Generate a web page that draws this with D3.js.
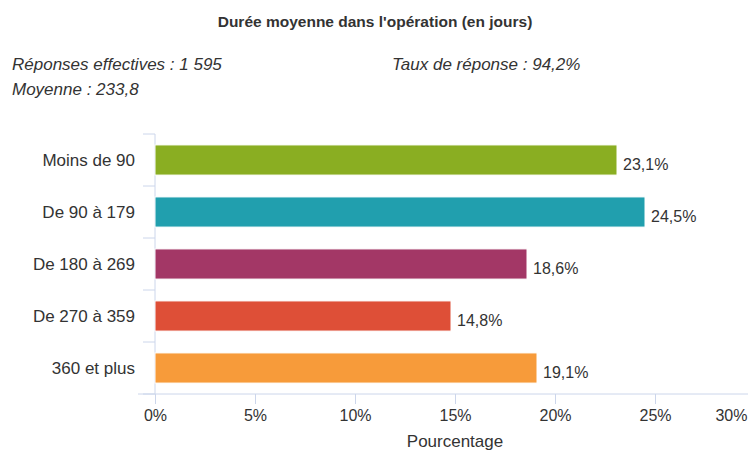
<!DOCTYPE html>
<html>
<head>
<meta charset="utf-8">
<script src="https://cdn.jsdelivr.net/npm/d3@7"></script>
<style>
  body { margin: 0; background: #fff; }
  svg { font-family: "Liberation Sans", Arial, sans-serif; }
</style>
</head>
<body>
<div id="chart"></div>
<script>
const categories = ["Moins de 90", "De 90 à 179", "De 180 à 269", "De 270 à 359", "360 et plus"];
const values = [23.1, 24.5, 18.6, 14.8, 19.1];
const colors = ["#8aae22", "#219fae", "#a33766", "#de4f37", "#f79b3a"];
const xTicks = [0, 5, 10, 15, 20, 25, 30];

const width = 748,
      height = 452,
      margin = ({ top: 134, right: -7, bottom: 58, left: 155 });

let data = categories.map((c, i) => ({ cat: c, val: values[i], color: colors[i] }));

let svg = d3.select("#chart")
    .append("svg")
    .attr("width", width)
    .attr("height", height);

// titles
svg.append("text")
    .attr("x", 375).attr("y", 27)
    .attr("text-anchor", "middle")
    .style("font-size", "15.5px")
    .style("font-weight", "bold")
    .style("fill", "#333")
    .text("Durée moyenne dans l'opération (en jours)");

let sub = [
    ["Réponses effectives : 1 595", 12, 70],
    ["Taux de réponse : 94,2%", 392, 70],
    ["Moyenne : 233,8", 12, 95]
];
svg.selectAll(".sub")
    .data(sub)
    .join("text")
    .attr("class", "sub")
    .attr("x", d => d[1]).attr("y", d => d[2])
    .style("font-size", "17px")
    .style("font-style", "italic")
    .style("fill", "#333")
    .text(d => d[0]);

let x = d3.scaleLinear()
    .domain([0, 30])
    .range([margin.left, width - margin.right]);

let y = d3.scaleBand()
    .domain(categories)
    .range([margin.top, height - margin.bottom])
    .paddingInner(0.42)
    .paddingOuter(0.21);

// x axis
let xAxis = svg.append("g")
    .attr("transform", `translate(0,${height - margin.bottom})`)
    .call(d3.axisBottom(x).tickValues(xTicks).tickFormat(d => d + "%").tickSize(10).tickPadding(6));
xAxis.select(".domain").attr("d", `M138,0H${width}`).attr("stroke", "#ccd6eb");
xAxis.selectAll(".tick line").attr("stroke", "#ccd6eb");
xAxis.selectAll(".tick text").style("font-size", "16px").style("fill", "#333").attr("font-family", null);
// last label pulled inside the frame
xAxis.selectAll(".tick text").filter(d => d === 30)
    .attr("text-anchor", "end").attr("x", width - 1 - x(30));

// y axis: ticks between categories
let yAxis = svg.append("g")
    .attr("transform", `translate(${margin.left},0)`);
yAxis.append("line")
    .attr("x1", 0).attr("x2", 0)
    .attr("y1", margin.top).attr("y2", height - margin.bottom)
    .attr("stroke", "#ccd6eb");
let step = y.step();
let bounds = categories.map(c => y(c) - (step - y.bandwidth()) / 2).concat([height - margin.bottom]);
yAxis.selectAll(".yt")
    .data(bounds)
    .join("line")
    .attr("class", "yt")
    .attr("x1", -12).attr("x2", 0)
    .attr("y1", d => d).attr("y2", d => d)
    .attr("stroke", "#ccd6eb");
yAxis.selectAll(".yl")
    .data(categories)
    .join("text")
    .attr("class", "yl")
    .attr("x", -20)
    .attr("y", d => y(d) + y.bandwidth() / 2)
    .attr("dy", "0.35em")
    .attr("text-anchor", "end")
    .style("font-size", "17px")
    .style("fill", "#333")
    .text(d => d);

// bars
let bar = svg.selectAll(".bar")
    .data(data)
    .join("g")
    .attr("class", "bar");

bar.append("rect")
    .attr("x", x(0))
    .attr("y", d => y(d.cat))
    .attr("width", d => x(d.val) - x(0))
    .attr("height", y.bandwidth())
    .attr("fill", d => d.color)
    .attr("stroke", "#fff")
    .attr("stroke-width", 1);

bar.append("text")
    .attr("x", d => x(d.val) + 6)
    .attr("y", d => y(d.cat) + y.bandwidth() / 2 + 4)
    .attr("dy", "0.35em")
    .style("font-size", "16px")
    .style("fill", "#333")
    .text(d => String(d.val).replace(".", ",") + "%");

// axis title
svg.append("text")
    .attr("x", 455).attr("y", 447)
    .attr("text-anchor", "middle")
    .style("font-size", "17px")
    .style("fill", "#333")
    .text("Pourcentage");
</script>
</body>
</html>
